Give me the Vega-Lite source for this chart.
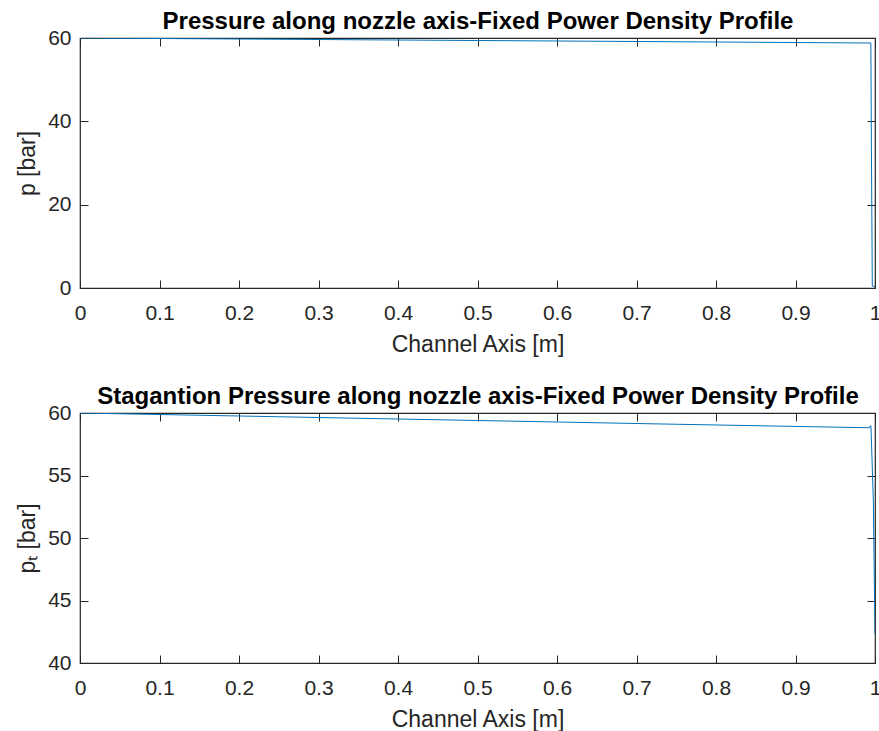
{
  "$schema": "https://vega.github.io/schema/vega-lite/v6.json",
  "background": "white",
  "padding": {"left": 15, "top": 8, "right": 0, "bottom": 0},
  "bounds": "flush",
  "spacing": 125,
  "config": {
    "font": "Liberation Sans",
    "view": {"stroke": "#262626", "strokeWidth": 1.2},
    "axis": {
      "grid": false,
      "zindex": 1,
      "domain": false,
      "offset": -8,
      "labelFlush": false,
      "tickColor": "#262626",
      "tickWidth": 1,
      "tickSize": 8,
      "labelColor": "#262626",
      "labelFont": "Liberation Sans",
      "labelFontSize": 21,
      "titleFont": "Liberation Sans",
      "titleFontSize": 23,
      "titleFontWeight": "normal",
      "titleColor": "#262626"
    }
  },
  "vconcat": [
    {
      "width": 795,
      "height": 250,
      "data": {"values": [
        {"x": 0, "p": 60},
        {"x": 0.25, "p": 59.7},
        {"x": 0.5, "p": 59.4},
        {"x": 0.75, "p": 59.1},
        {"x": 0.9948, "p": 58.8},
        {"x": 0.9955, "p": 33.2},
        {"x": 0.9966, "p": 0.5},
        {"x": 1, "p": 0.3}
      ]},
      "resolve": {"axis": {"x": "independent", "y": "independent"}},
      "layer": [
        {
          "mark": {"type": "line", "color": "#0072BD", "strokeWidth": 1, "clip": true},
          "encoding": {
            "x": {"field": "x", "type": "quantitative", "scale": {"domain": [0, 1], "nice": false, "zero": false},
                  "axis": {"title": "Channel Axis [m]", "values": [0,0.1,0.2,0.3,0.4,0.5,0.6,0.7,0.8,0.9,1], "format": ".1~f", "labelPadding": 14, "labelBaseline": "top", "titleY": 71, "titleBaseline": "alphabetic"}},
            "y": {"field": "p", "type": "quantitative", "scale": {"domain": [0, 60], "nice": false},
                  "axis": {"title": "p [bar]", "values": [0, 20, 40, 60], "labelPadding": 9, "titleX": -54, "titleBaseline": "alphabetic"}}
          }
        },
        {
          "mark": {"type": "line", "opacity": 0},
          "encoding": {
            "x": {"field": "x", "type": "quantitative", "axis": {"orient": "top", "labels": false, "title": "Pressure along nozzle axis-Fixed Power Density Profile", "titleFontWeight": "bold", "titleFontSize": 24, "titleColor": "#000000", "titleY": -18, "titleBaseline": "alphabetic", "values": [0,0.1,0.2,0.3,0.4,0.5,0.6,0.7,0.8,0.9,1]}},
            "y": {"field": "p", "type": "quantitative", "axis": {"orient": "right", "labels": false, "title": null, "values": [0, 20, 40, 60]}}
          }
        }
      ]
    },
    {
      "width": 795,
      "height": 250,
      "data": {"values": [
        {"x": 0, "p": 60},
        {"x": 0.25, "p": 59.7},
        {"x": 0.5, "p": 59.4},
        {"x": 0.75, "p": 59.1},
        {"x": 0.993, "p": 58.82},
        {"x": 0.9945, "p": 59.0},
        {"x": 0.995, "p": 58.8},
        {"x": 0.9979, "p": 53.0},
        {"x": 1, "p": 42.3}
      ]},
      "resolve": {"axis": {"x": "independent", "y": "independent"}},
      "layer": [
        {
          "mark": {"type": "line", "color": "#0072BD", "strokeWidth": 1, "clip": true},
          "encoding": {
            "x": {"field": "x", "type": "quantitative", "scale": {"domain": [0, 1], "nice": false, "zero": false},
                  "axis": {"title": "Channel Axis [m]", "values": [0,0.1,0.2,0.3,0.4,0.5,0.6,0.7,0.8,0.9,1], "format": ".1~f", "labelPadding": 14, "labelBaseline": "top", "titleY": 71, "titleBaseline": "alphabetic"}},
            "y": {"field": "p", "type": "quantitative", "scale": {"domain": [40, 60], "nice": false, "zero": false},
                  "axis": {"title": "pₜ [bar]", "values": [40, 45, 50, 55, 60], "labelPadding": 9, "titleX": -54, "titleBaseline": "alphabetic"}}
          }
        },
        {
          "mark": {"type": "line", "opacity": 0},
          "encoding": {
            "x": {"field": "x", "type": "quantitative", "axis": {"orient": "top", "labels": false, "title": "Stagantion Pressure along nozzle axis-Fixed Power Density Profile", "titleFontWeight": "bold", "titleFontSize": 24, "titleColor": "#000000", "titleY": -18, "titleBaseline": "alphabetic", "values": [0,0.1,0.2,0.3,0.4,0.5,0.6,0.7,0.8,0.9,1]}},
            "y": {"field": "p", "type": "quantitative", "axis": {"orient": "right", "labels": false, "title": null, "values": [40, 45, 50, 55, 60]}}
          }
        }
      ]
    }
  ]
}
